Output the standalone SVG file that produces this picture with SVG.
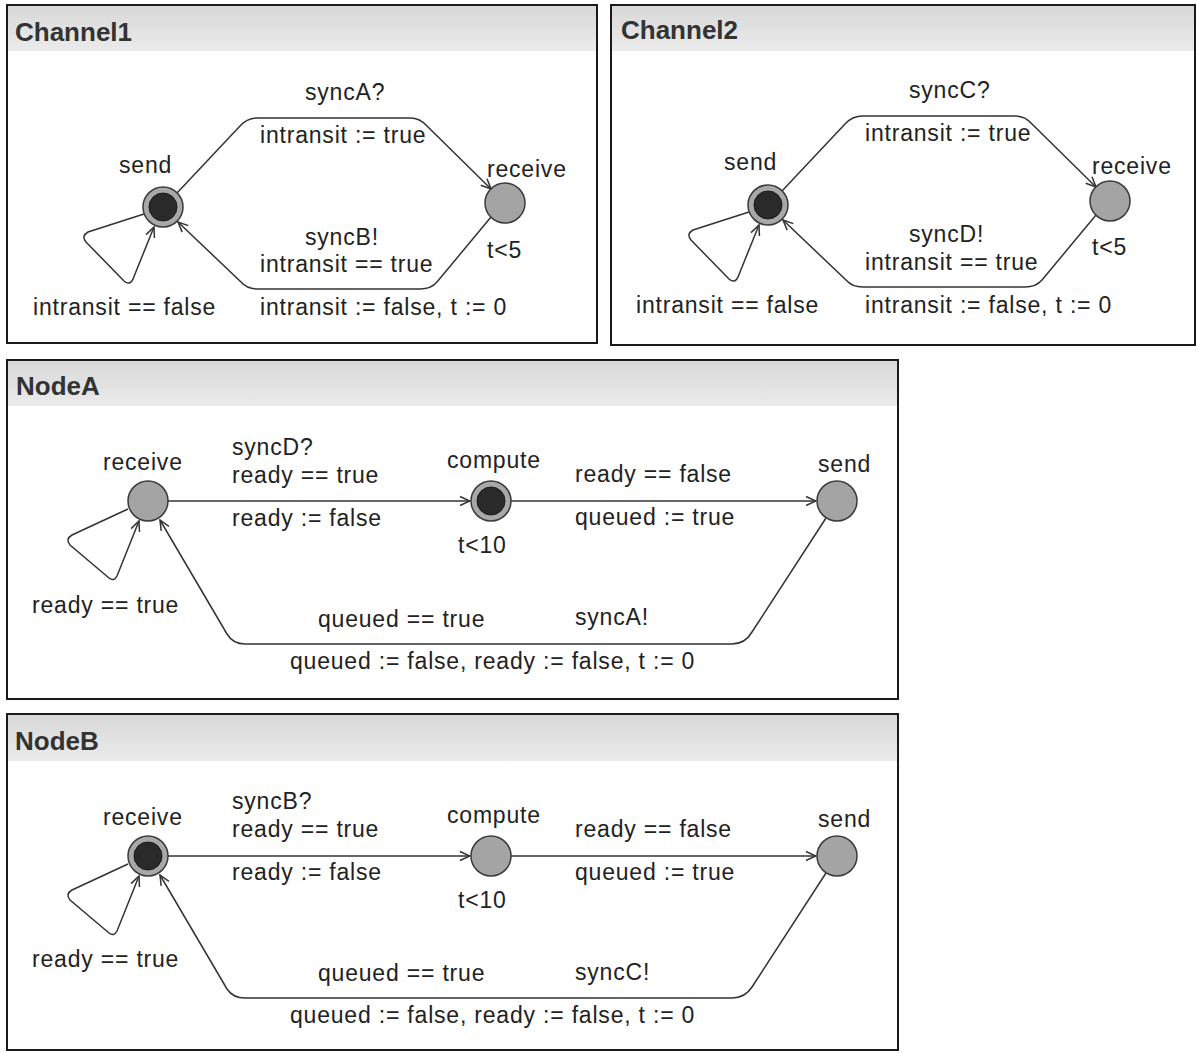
<svg xmlns="http://www.w3.org/2000/svg" width="1198" height="1053" viewBox="0 0 1198 1053">
<defs>
<linearGradient id="hdr" x1="0" y1="0" x2="0" y2="1">
<stop offset="0" stop-color="#d8d8d8"/>
<stop offset="1" stop-color="#ebebeb"/>
</linearGradient>
<marker id="arr" viewBox="0 0 12 12" refX="11" refY="6" markerWidth="12" markerHeight="12" markerUnits="userSpaceOnUse" orient="auto">
<path d="M1,1.5 L11,6 L1,10.5" fill="none" stroke="#333" stroke-width="1.5"/>
</marker>
</defs>
<style>
.panel{fill:#fff;stroke:#1a1a1a;stroke-width:2}
.hdr{fill:url(#hdr)}
.title{font-family:"Liberation Sans",Arial,sans-serif;font-weight:bold;font-size:26px;fill:#333}
.t{font-family:"Liberation Sans",Arial,sans-serif;font-size:23px;letter-spacing:0.8px;fill:#222}
.loc{fill:#a4a4a4;stroke:#3a3a3a;stroke-width:1.5}
.init{fill:#a8a8a8;stroke:#3a3a3a;stroke-width:1.5}
.inner{fill:#2a2a2a;stroke:#1a1a1a;stroke-width:1}
.e{fill:none;stroke:#333;stroke-width:1.5;marker-end:url(#arr)}
</style>
<rect width="1198" height="1053" fill="#fff"/>

<!-- Panels -->
<g id="panel-channel1">
<rect class="panel" x="7" y="5" width="590" height="338"/>
<rect class="hdr" x="8" y="6" width="588" height="45"/>
<text class="title" x="15" y="41">Channel1</text>
</g>
<g id="panel-channel2">
<rect class="panel" x="611" y="5" width="584" height="340"/>
<rect class="hdr" x="612" y="6" width="582" height="45"/>
<text class="title" x="621" y="39">Channel2</text>
</g>
<g id="panel-nodea">
<rect class="panel" x="7" y="360" width="891" height="339"/>
<rect class="hdr" x="8" y="361" width="889" height="45"/>
<text class="title" x="16" y="395">NodeA</text>
</g>
<g id="panel-nodeb">
<rect class="panel" x="7" y="714" width="891" height="336"/>
<rect class="hdr" x="8" y="715" width="889" height="46"/>
<text class="title" x="15" y="750">NodeB</text>
</g>

<!-- Connectors -->
<g id="connectors">
<!-- Channel1 -->
<path class="e" d="M177,193 L240,126 Q247,118 258,118 L410,118 Q420,118 427,126 L491,189"/>
<path class="e" d="M491,217 L437,282 Q431,289 420,289 L258,289 Q247,289 241,282 L178,222"/>
<path class="e" d="M144,214 L88,232 Q81,236 86,242 L124,281 Q130,286 133,279 L154,227"/>
<!-- Channel2 -->
<path class="e" d="M782,191 L845,124 Q852,116 863,116 L1015,116 Q1025,116 1032,124 L1096,187"/>
<path class="e" d="M1096,215 L1042,280 Q1036,287 1025,287 L863,287 Q852,287 846,280 L783,220"/>
<path class="e" d="M749,212 L693,230 Q686,234 691,240 L729,279 Q735,284 738,277 L759,225"/>
<!-- NodeA -->
<path class="e" d="M168,501 L470,501"/>
<path class="e" d="M511,501 L816,501"/>
<path class="e" d="M128,509 L72,535 Q65,539 70,545 L109,578 Q114,582 117,576 L139,521"/>
<path class="e" d="M826,518 L752,632 Q745,644 732,644 L245,644 Q233,644 227,634 L160,520"/>
<!-- NodeB -->
<path class="e" d="M168,856 L470,856"/>
<path class="e" d="M511,856 L816,856"/>
<path class="e" d="M128,864 L72,890 Q65,894 70,900 L109,933 Q114,937 117,931 L139,876"/>
<path class="e" d="M826,873 L752,987 Q745,998 732,998 L245,998 Q233,998 227,989 L160,875"/>
</g>

<!-- Channel1 nodes -->
<g id="ch1-send">
<circle class="init" cx="163" cy="207" r="20"/>
<circle class="inner" cx="163" cy="207" r="14"/>
<text class="t" x="119" y="173">send</text>
</g>
<g id="ch1-receive">
<circle class="loc" cx="505" cy="203" r="20"/>
<text class="t" x="487" y="177">receive</text>
<text class="t" x="487" y="258">t&lt;5</text>
</g>
<g id="ch1-labels">
<text class="t" x="305" y="100">syncA?</text>
<text class="t" x="260" y="143">intransit := true</text>
<text class="t" x="305" y="245">syncB!</text>
<text class="t" x="260" y="272">intransit == true</text>
<text class="t" x="33" y="315">intransit == false</text>
<text class="t" x="260" y="315">intransit := false, t := 0</text>
</g>

<!-- Channel2 nodes -->
<g id="ch2-send">
<circle class="init" cx="768" cy="205" r="20"/>
<circle class="inner" cx="768" cy="205" r="14"/>
<text class="t" x="724" y="170">send</text>
</g>
<g id="ch2-receive">
<circle class="loc" cx="1110" cy="201" r="20"/>
<text class="t" x="1092" y="174">receive</text>
<text class="t" x="1092" y="255">t&lt;5</text>
</g>
<g id="ch2-labels">
<text class="t" x="909" y="98">syncC?</text>
<text class="t" x="865" y="141">intransit := true</text>
<text class="t" x="909" y="242">syncD!</text>
<text class="t" x="865" y="270">intransit == true</text>
<text class="t" x="636" y="313">intransit == false</text>
<text class="t" x="865" y="313">intransit := false, t := 0</text>
</g>

<!-- NodeA nodes -->
<g id="na-receive">
<circle class="loc" cx="148" cy="501" r="20"/>
<text class="t" x="103" y="470">receive</text>
</g>
<g id="na-compute">
<circle class="init" cx="491" cy="501" r="20"/>
<circle class="inner" cx="491" cy="501" r="14"/>
<text class="t" x="447" y="468">compute</text>
<text class="t" x="458" y="553">t&lt;10</text>
</g>
<g id="na-send">
<circle class="loc" cx="837" cy="501" r="20"/>
<text class="t" x="818" y="472">send</text>
</g>
<g id="na-labels">
<text class="t" x="232" y="455">syncD?</text>
<text class="t" x="232" y="483">ready == true</text>
<text class="t" x="232" y="526">ready := false</text>
<text class="t" x="575" y="482">ready == false</text>
<text class="t" x="575" y="525">queued := true</text>
<text class="t" x="32" y="613">ready == true</text>
<text class="t" x="318" y="627">queued == true</text>
<text class="t" x="575" y="625">syncA!</text>
<text class="t" x="290" y="669">queued := false, ready := false, t := 0</text>
</g>

<!-- NodeB nodes -->
<g id="nb-receive">
<circle class="init" cx="148" cy="856" r="20"/>
<circle class="inner" cx="148" cy="856" r="14"/>
<text class="t" x="103" y="825">receive</text>
</g>
<g id="nb-compute">
<circle class="loc" cx="491" cy="856" r="20"/>
<text class="t" x="447" y="823">compute</text>
<text class="t" x="458" y="908">t&lt;10</text>
</g>
<g id="nb-send">
<circle class="loc" cx="837" cy="856" r="20"/>
<text class="t" x="818" y="827">send</text>
</g>
<g id="nb-labels">
<text class="t" x="232" y="809">syncB?</text>
<text class="t" x="232" y="837">ready == true</text>
<text class="t" x="232" y="880">ready := false</text>
<text class="t" x="575" y="837">ready == false</text>
<text class="t" x="575" y="880">queued := true</text>
<text class="t" x="32" y="967">ready == true</text>
<text class="t" x="318" y="981">queued == true</text>
<text class="t" x="575" y="980">syncC!</text>
<text class="t" x="290" y="1023">queued := false, ready := false, t := 0</text>
</g>
</svg>
